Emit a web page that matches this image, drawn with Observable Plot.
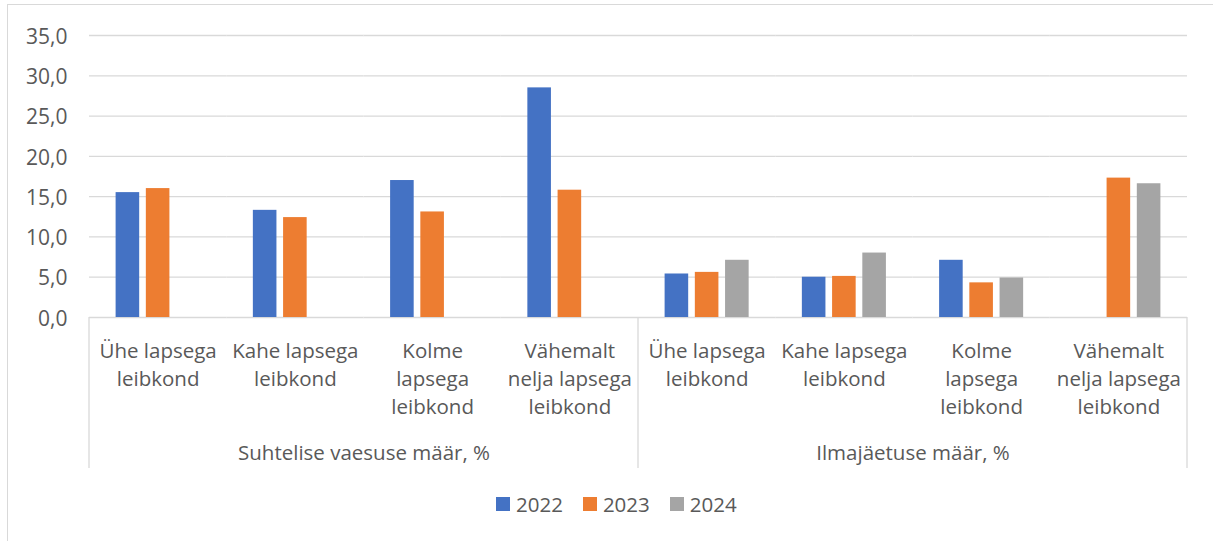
<!DOCTYPE html>
<html>
<head>
<meta charset="utf-8">
<script src="https://cdn.jsdelivr.net/npm/d3@7"></script>
<script src="https://cdn.jsdelivr.net/npm/@observablehq/plot@0.6"></script>
<style>
  html, body { margin: 0; padding: 0; background: #fff; overflow: hidden; }
  #wrap { position: relative; width: 1213px; height: 541px; }
  #border { position: absolute; left: 7px; top: 4px; width: 1400px; height: 700px;
            border-left: 1px solid #d9d9d9; border-top: 1px solid #d9d9d9; pointer-events: none; }
  #chart { position: absolute; left: 0; top: 0; }
  #legend { position: absolute; left: 0; top: 485px; width: 1213px; display: flex; justify-content: flex-start;
            font-family: "Open Sans", sans-serif; font-size: 20.5px; color: #595959; }
  .item { display: flex; align-items: center; margin-right: 20px; }
  .sw { width: 14px; height: 14px; margin-right: 6px; }
</style>
</head>
<body>
<div id="wrap">
  <div id="chart"></div>
  <div id="legend"></div>
  <div id="border"></div>
</div>
<script>
// ---- data ----
const groups = ["Suhtelise vaesuse määr, %", "Ilmajäetuse määr, %"];
const householdTypes = ["Ühe lapsega\nleibkond", "Kahe lapsega\nleibkond", "Kolme\nlapsega\nleibkond", "Vähemalt\nnelja lapsega\nleibkond"];
const years = ["2022", "2023", "2024"];
const colors = ["#4472C4", "#ED7D31", "#A5A5A5"];
const yTicks = [0, 5, 10, 15, 20, 25, 30, 35];

// Suhtelise vaesuse määr, %
const poverty2022 = [15.5, 13.3, 17.0, 28.5];
const poverty2023 = [16.0, 12.4, 13.1, 15.8];
const poverty2024 = [null, null, null, null];
// Ilmajäetuse määr, %
const deprivation2022 = [5.4, 5.0, 7.1, null];
const deprivation2023 = [5.6, 5.1, 4.3, 17.3];
const deprivation2024 = [7.1, 8.0, 4.9, 16.6];

const series = [
  [poverty2022, poverty2023, poverty2024],
  [deprivation2022, deprivation2023, deprivation2024]
];

// tidy table built from the arrays
const keys = [];
const labelRows = [];
const rows = [];
groups.forEach((g, gi) => {
  householdTypes.forEach((h, hi) => {
    const key = gi + "|" + hi;
    keys.push(key);
    labelRows.push({key, label: h});
    years.forEach((yr, yi) => {
      const v = series[gi][yi][hi];
      if (v != null) rows.push({key, year: yr, value: v});
    });
  });
});
const groupRows = groups.map((g, gi) => ({key: gi + "|1", label: g}));

const fmt = d => d.toFixed(1).replace(".", ",");

const chart = Plot.plot({
  width: 1213,
  height: 485,
  marginLeft: 89,
  marginRight: 26,
  marginTop: 35,
  marginBottom: 168,
  style: {fontFamily: "Open Sans", fontSize: "20px", color: "#595959", background: "transparent", overflow: "visible"},
  fx: {domain: keys, padding: 0, axis: null, round: false, label: null},
  x: {domain: years, paddingInner: 0.22, paddingOuter: 0.88, axis: null, round: false},
  y: {domain: [0, 35], axis: null},
  color: {domain: years, range: colors},
  marks: [
    Plot.gridY(yTicks, {stroke: "#d9d9d9", strokeOpacity: 1, strokeWidth: 1.3}),
    Plot.axisY(yTicks, {tickSize: 0, tickPadding: 22, tickFormat: fmt, fontSize: 21, fill: "#595959", label: null, dy: 1.5}),
    Plot.barY(rows, {fx: "key", x: "year", y: "value", fill: "year", inset: 0}),
    Plot.text(labelRows, {fx: "key", text: "label", frameAnchor: "bottom", lineAnchor: "top", dy: 20, lineHeight: 1.38, fontSize: 20.5, fill: "#595959"}),
    Plot.text(groupRows, {fx: "key", text: "label", frameAnchor: "bottom-right", textAnchor: "middle", lineAnchor: "top", dy: 128, fontSize: 20.5, fill: "#595959"})
  ]
});
document.getElementById("chart").appendChild(chart);

// group separator lines below the axis, positioned with the fx / y scales
const fxs = chart.scale("fx");
const ys = chart.scale("y");
const y0 = ys.apply(0);
const sepX = [fxs.apply(keys[0]), fxs.apply(keys[4]), fxs.apply(keys[7]) + fxs.bandwidth];
d3.select(chart).append("g")
  .selectAll("line").data(sepX).join("line")
  .attr("x1", d => d).attr("x2", d => d)
  .attr("y1", y0).attr("y2", y0 + 151)
  .attr("stroke", "#d9d9d9").attr("stroke-width", 1.3);

// legend
const legend = d3.select("#legend").style("padding-top", "5px").style("padding-left", "496px");
years.forEach((yr, i) => {
  const it = legend.append("div").attr("class", "item");
  it.append("div").attr("class", "sw").style("background", colors[i]);
  it.append("span").text(yr);
});
</script>
</body>
</html>
